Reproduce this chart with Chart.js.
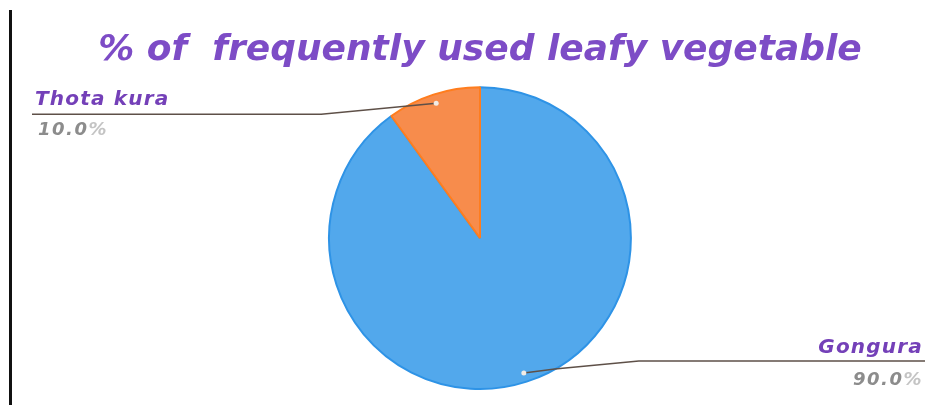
<!DOCTYPE html>
<html>
<head>
<meta charset="utf-8">
<script src="https://cdn.jsdelivr.net/npm/chart.js@4"></script>
<style>
  html, body { margin: 0; padding: 0; background: #ffffff; }
  canvas { display: block; }
</style>
</head>
<body>
<canvas id="leafyChart" width="935" height="405"></canvas>
<script>
const categories = ['Gongura', 'Thota kura'];
const shares = [90, 10];
const sliceFill = ['#52a8ec', '#f78c4c'];
const sliceEdge = ['#2e93e6', '#ff7d1e'];
const chartTitle = '% of  frequently used leafy vegetable';

const ctx = document.getElementById('leafyChart').getContext('2d');

// left page border seen on the scan
Chart.register({
    id: 'pageEdge',
    beforeDraw(chart) {
        const c = chart.ctx;
        c.save();
        c.fillStyle = '#111';
        c.fillRect(9, 10, 3, chart.height - 10);
        c.restore();
    }
});

// leader lines with name + percentage, drawn from the arc elements
Chart.register({
    id: 'leaderLabels',
    afterDatasetsDraw(chart) {
        const c = chart.ctx;
        const meta = chart.getDatasetMeta(0);
        const total = shares.reduce((a, b) => a + b, 0);

        meta.data.forEach((arc, i) => {
            const mid = (arc.startAngle + arc.endAngle) / 2;
            const r = arc.outerRadius * 0.94;
            const dx = arc.x + Math.cos(mid) * r;
            const dy = arc.y + Math.sin(mid) * r;
            const side = dx < arc.x ? -1 : 1;
            const above = dy < arc.y;
            const lineY = above ? dy + 11 : dy - 12;
            const endX = side < 0 ? 32 : chart.width - 10;

            c.save();
            c.strokeStyle = '#5e5048';
            c.lineWidth = 1.5;
            c.beginPath();
            c.moveTo(dx, dy);
            c.lineTo(dx + side * 31, dy + (above ? 3 : -4));
            c.lineTo(dx + side * 115, lineY);
            c.lineTo(endX, lineY);
            c.stroke();

            c.fillStyle = '#f2ece6';
            c.beginPath();
            c.arc(dx, dy, 2.5, 0, Math.PI * 2);
            c.fill();

            const textX = side < 0 ? 35 : chart.width - 12;
            c.textAlign = side < 0 ? 'left' : 'right';
            c.textBaseline = 'alphabetic';
            c.letterSpacing = '1.2px';
            c.font = 'italic bold 20px "DejaVu Sans"';
            c.fillStyle = '#7440b8';
            c.fillText(categories[i], textX, above ? lineY - 9 : lineY - 8);

            const num = (shares[i] / total * 100).toFixed(1);
            c.letterSpacing = '1.5px';
            c.font = 'italic bold 18px "DejaVu Sans"';
            const pctW = c.measureText('%').width;
            const pctY = above ? lineY + 21 : lineY + 24;
            if (side < 0) {
                c.fillStyle = '#8c8c8c';
                c.fillText(num, textX + 3, pctY);
                const nw = c.measureText(num).width;
                c.fillStyle = '#c4c4c4';
                c.fillText('%', textX + 3 + nw, pctY);
            } else {
                c.fillStyle = '#c4c4c4';
                c.fillText('%', textX, pctY);
                c.fillStyle = '#8c8c8c';
                c.fillText(num, textX - pctW, pctY);
            }
            c.restore();
        });
    }
});

const leafyChart = new Chart(ctx, {
    type: 'pie',
    data: {
        labels: categories,
        datasets: [{
            data: shares,
            backgroundColor: sliceFill,
            borderColor: sliceEdge,
            borderWidth: 2,
            hoverOffset: 0
        }]
    },
    options: {
        responsive: false,
        animation: false,
        layout: {
            padding: { left: 25, right: 0, top: 0, bottom: 15 }
        },
        plugins: {
            legend: { display: false },
            tooltip: { enabled: false },
            title: {
                display: true,
                text: chartTitle,
                color: '#7d4cc6',
                font: { family: '"DejaVu Sans"', size: 36, style: 'italic', weight: 'bold', lineHeight: 1.2 },
                padding: { top: 29, bottom: 14 }
            }
        }
    }
});
</script>
</body>
</html>
